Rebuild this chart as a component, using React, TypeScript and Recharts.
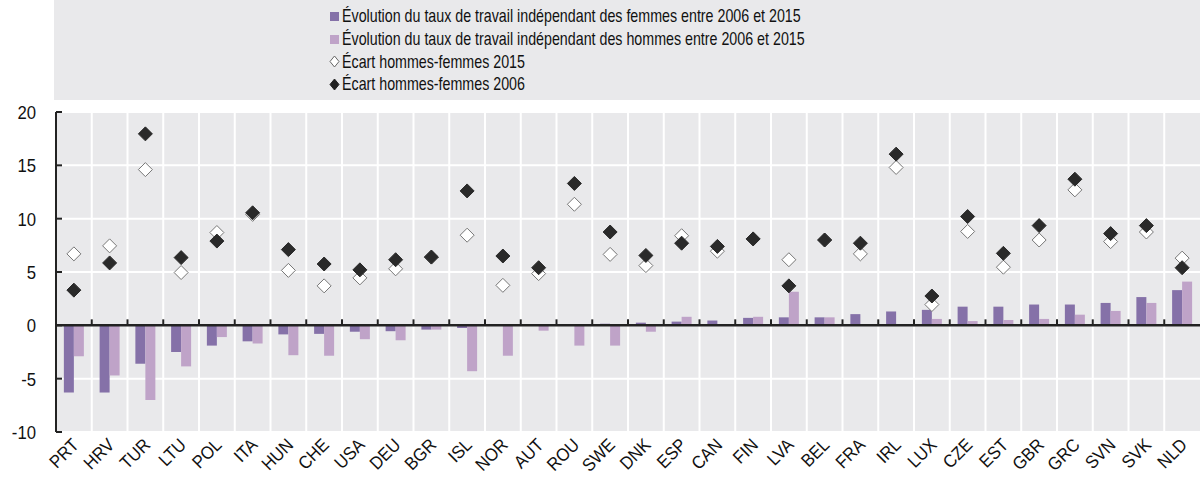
import React from 'react';
import { ComposedChart, Bar, Scatter, XAxis, YAxis, CartesianGrid, ReferenceLine } from 'recharts';

const countries = ['PRT','HRV','TUR','LTU','POL','ITA','HUN','CHE','USA','DEU','BGR','ISL','NOR','AUT','ROU','SWE','DNK','ESP','CAN','FIN','LVA','BEL','FRA','IRL','LUX','CZE','EST','GBR','GRC','SVN','SVK','NLD'];
const women = [-6.3, -6.3, -3.6, -2.5, -1.9, -1.5, -0.85, -0.8, -0.6, -0.55, -0.4, -0.25, 0, 0, 0, 0.15, 0.25, 0.35, 0.45, 0.7, 0.75, 0.75, 1.05, 1.3, 1.45, 1.75, 1.75, 1.95, 1.95, 2.1, 2.65, 3.3];
const men = [-2.9, -4.7, -7.0, -3.85, -1.1, -1.7, -2.8, -2.85, -1.3, -1.4, -0.4, -4.3, -2.85, -0.5, -1.9, -1.9, -0.6, 0.8, 0, 0.8, 3.15, 0.75, 0.1, 0, 0.6, 0.4, 0.5, 0.6, 1.0, 1.35, 2.1, 4.1];
const gap2015 = [6.7, 7.45, 14.6, 4.95, 8.7, 10.4, 5.15, 3.7, 4.45, 5.3, 6.4, 8.45, 3.75, 4.85, 11.35, 6.65, 5.6, 8.4, 6.95, 8.1, 6.15, 8.0, 6.7, 14.8, 1.95, 8.8, 5.45, 8.0, 12.7, 7.85, 8.75, 6.3];
const gap2006 = [3.3, 5.85, 17.95, 6.35, 7.9, 10.55, 7.1, 5.75, 5.2, 6.15, 6.4, 12.6, 6.5, 5.4, 13.3, 8.75, 6.55, 7.7, 7.4, 8.1, 3.7, 8.0, 7.7, 16.05, 2.75, 10.2, 6.75, 9.35, 13.7, 8.6, 9.35, 5.4];
const yTicks = [-10, -5, 0, 5, 10, 15, 20];
const legendLabels = [
  'Évolution du taux de travail indépendant des femmes entre 2006 et 2015',
  'Évolution du taux de travail indépendant des hommes entre 2006 et 2015',
  'Écart hommes-femmes 2015',
  'Écart hommes-femmes 2006',
];

const data = countries.map((c, i) => ({
  country: c,
  women: women[i],
  men: men[i],
  gap2015: gap2015[i],
  gap2006: gap2006[i],
}));

const FONT = "'Liberation Sans', Arial, sans-serif";
const BG = '#E9E9EB';
const C_WOMEN = '#8571A8';
const C_MEN = '#BFA3C8';

const Diamond = (fill: string, stroke: string) => (props: any) => {
  const { cx, cy } = props;
  if (cx == null || cy == null) return null;
  const r = 7;
  return (
    <polygon
      points={`${cx},${cy - r} ${cx + r},${cy} ${cx},${cy + r} ${cx - r},${cy}`}
      fill={fill}
      stroke={stroke}
      strokeWidth={1}
    />
  );
};

const YTick = (props: any) => {
  const { x, y, payload } = props;
  const axisX = x + 20;
  return (
    <g>
      <line x1={axisX} x2={axisX + 6} y1={y} y2={y} stroke="#222" strokeWidth={2} />
      <g transform={`translate(${x}, ${y + 7}) scale(0.88, 1)`}>
        <text x={0} y={0} textAnchor="end" fontSize={19} fill="#111" fontFamily={FONT}>
          {payload.value}
        </text>
      </g>
    </g>
  );
};

const XTick = (props: any) => {
  const { x, y, payload } = props;
  return (
    <g transform={`translate(${x + 6}, ${y + 6}) rotate(-45) scale(0.92, 1)`}>
      <text x={0} y={0} textAnchor="end" fontSize={18} fill="#111" fontFamily={FONT}>
        {payload.value}
      </text>
    </g>
  );
};

const ZeroLine = (props: any) => {
  const { x1, x2, y1 } = props;
  const n = countries.length;
  const step = (x2 - x1) / n;
  const ticks = [];
  for (let i = 1; i < n; i++) {
    const tx = x1 + i * step;
    ticks.push(<line key={i} x1={tx} x2={tx} y1={y1} y2={y1 - 6} stroke="#222" strokeWidth={2} />);
  }
  return (
    <g>
      {ticks}
      <line x1={x1} x2={x2} y1={y1} y2={y1} stroke="#222" strokeWidth={2.5} />
    </g>
  );
};

const LegendMarker = ({ kind }: { kind: number }) => {
  if (kind === 0) return <rect x={1} y={3} width={9} height={9} fill={C_WOMEN} />;
  if (kind === 1) return <rect x={1} y={3} width={9} height={9} fill={C_MEN} />;
  const fill = kind === 2 ? '#fff' : '#222';
  const stroke = kind === 2 ? '#666' : '#222';
  return <polygon points="5.5,2 10,7.5 5.5,13 1,7.5" fill={fill} stroke={stroke} strokeWidth={1} />;
};

export default function App() {
  return (
    <div style={{ position: 'absolute', left: 0, top: 0, width: 1200, height: 480, background: '#fff', overflow: 'hidden' }}>
      <div
        style={{
          position: 'absolute',
          left: 54,
          top: 0,
          width: 1146,
          height: 100,
          background: BG,
        }}
      >
        <div style={{ position: 'absolute', left: 275, top: 5 }}>
          {legendLabels.map((l, i) => (
            <div key={i} style={{ display: 'flex', alignItems: 'center', height: 22.7, fontFamily: FONT, fontSize: 19, color: '#111', whiteSpace: 'nowrap' }}>
              <svg width={12} height={15} style={{ marginRight: 1 }}>
                <LegendMarker kind={i} />
              </svg>
              <span style={{ display: 'inline-block', transform: 'scaleX(0.75)', transformOrigin: 'left center' }}>{l}</span>
            </div>
          ))}
        </div>
      </div>
      <div style={{ position: 'absolute', left: 0, top: 0 }}>
        <ComposedChart
          width={1200}
          height={480}
          data={data}
          margin={{ top: 112, right: 0, bottom: 0, left: 0 }}
          barCategoryGap="22%"
          barGap={0}
        >
          <CartesianGrid
            fill={BG}
            stroke="#fff"
            strokeWidth={2}
            verticalCoordinatesGenerator={(p: any) => {
              const off = p.offset;
              const n = countries.length;
              const arr = [];
              for (let i = 1; i < n; i++) arr.push(off.left + (i * off.width) / n);
              return arr;
            }}
          />
          <XAxis
            dataKey="country"
            interval={0}
            axisLine={false}
            tickLine={false}
            tick={<XTick />}
            height={48}
          />
          <YAxis
            domain={[-10, 20]}
            ticks={yTicks}
            width={56}
            axisLine={{ stroke: '#222', strokeWidth: 2 }}
            tickLine={false}
            tickSize={6}
            tickMargin={14}
            tick={<YTick />}
            interval={0}
          />
          <Bar dataKey="women" fill={C_WOMEN} isAnimationActive={false} />
          <Bar dataKey="men" fill={C_MEN} isAnimationActive={false} />
          <ReferenceLine y={0} shape={(p: any) => <ZeroLine {...p} />} />
          <Scatter dataKey="gap2015" shape={Diamond('#fff', '#777')} isAnimationActive={false} />
          <Scatter dataKey="gap2006" shape={Diamond('#2a2a2a', '#2a2a2a')} isAnimationActive={false} />
        </ComposedChart>
      </div>
    </div>
  );
}
